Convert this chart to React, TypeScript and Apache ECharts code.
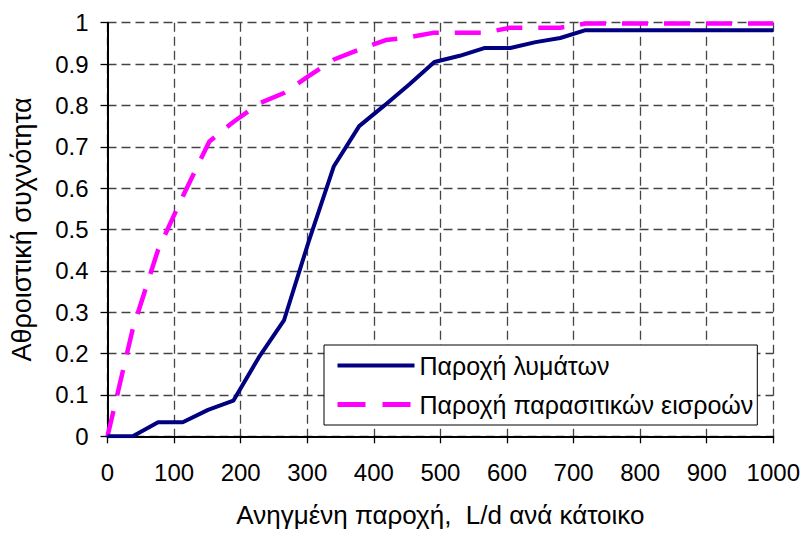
import React, { useEffect, useRef } from "react";
import * as echarts from "echarts";

const xWaste = [0, 38, 76, 113, 151, 189, 227, 265, 302, 340, 378, 416, 454, 491, 529, 567, 605, 643, 680, 718, 1000];
const yWaste = [0, 0, 0.034, 0.034, 0.064, 0.086, 0.19, 0.28, 0.47, 0.653, 0.75, 0.8, 0.852, 0.905, 0.92, 0.939, 0.939, 0.953, 0.963, 0.982, 0.982];
const xInflow = [0, 38, 76, 113, 153, 189, 228, 265, 302, 340, 378, 418, 454, 491, 529, 567, 605, 643, 680, 718, 1000];
const yInflow = [0, 0.26, 0.451, 0.58, 0.713, 0.76, 0.805, 0.83, 0.871, 0.911, 0.935, 0.958, 0.965, 0.976, 0.976, 0.976, 0.988, 0.988, 0.988, 0.998, 0.998];
const seriesNames = ["Παροχή λυμάτων", "Παροχή παρασιτικών εισροών"];
const xTitle = "Ανηγμένη παροχή,  L/d ανά κάτοικο";
const yTitle = "Αθροιστική συχνότητα";

const FONT = "'Liberation Sans', Arial, sans-serif";

export default function App() {
  const ref = useRef<HTMLDivElement>(null);
  useEffect(() => {
    if (!ref.current) return;
    const chart = echarts.init(ref.current, undefined, { renderer: "svg" });
    const gridLine = { show: true, lineStyle: { color: "#444", width: 1.3, type: [9, 5] as any } };
    chart.setOption({
      animation: false,
      backgroundColor: "#fff",
      textStyle: { fontFamily: FONT },
      grid: { left: 107.5, right: 29, top: 22.7, bottom: 97.7, containLabel: false },
      legend: {
        orient: "vertical",
        left: 324,
        top: 345,
        backgroundColor: "#fff",
        borderColor: "#000",
        borderWidth: 1,
        padding: [8, 4, 8, 11],
        itemGap: 14,
        itemWidth: 77,
        itemHeight: 14,
        itemStyle: { opacity: 0 },
        textStyle: { fontFamily: FONT, fontSize: 25, color: "#000" },
        data: [
          { name: seriesNames[0], lineStyle: { width: 4, color: "#000080" } },
          { name: seriesNames[1], lineStyle: { width: 5, color: "#ff00ff", type: [28, 17] as any } },
        ],
      },
      xAxis: {
        type: "value",
        min: 0,
        max: 1000,
        interval: 100,
        name: xTitle,
        nameLocation: "middle",
        nameGap: 66,
        nameTextStyle: { fontFamily: FONT, fontSize: 26, color: "#000" },
        axisLine: { show: true, onZero: false, lineStyle: { color: "#000", width: 2 } },
        axisTick: { show: true, length: 7, lineStyle: { color: "#000", width: 1.3 } },
        axisLabel: { fontFamily: FONT, fontSize: 24, color: "#000", margin: 24, formatter: (v: number) => String(v) },
        splitLine: gridLine,
      },
      yAxis: {
        type: "value",
        min: 0,
        max: 1,
        interval: 0.1,
        name: yTitle,
        nameLocation: "middle",
        nameGap: 72,
        nameTextStyle: { fontFamily: FONT, fontSize: 27, color: "#000" },
        axisLine: { show: true, onZero: false, lineStyle: { color: "#000", width: 2 } },
        axisTick: { show: true, length: 7, lineStyle: { color: "#000", width: 1.3 } },
        axisLabel: { fontFamily: FONT, fontSize: 24, color: "#000", margin: 19 },
        splitLine: gridLine,
      },
      series: [
        {
          name: seriesNames[0],
          type: "line",
          data: xWaste.map((x, i) => [x, yWaste[i]]),
          symbol: "none",
          showSymbol: false,
          color: "#000080",
          lineStyle: { color: "#000080", width: 4, type: "solid" },
          z: 3,
        },
        {
          name: seriesNames[1],
          type: "line",
          data: xInflow.map((x, i) => [x, yInflow[i]]),
          symbol: "none",
          showSymbol: false,
          color: "#ff00ff",
          lineStyle: { color: "#ff00ff", width: 4.5, type: [26, 16] as any },
          z: 2,
        },
      ],
    });
    return () => chart.dispose();
  }, []);
  return <div ref={ref} style={{ width: 803, height: 534, position: "absolute", left: 0, top: 0 }} />;
}
